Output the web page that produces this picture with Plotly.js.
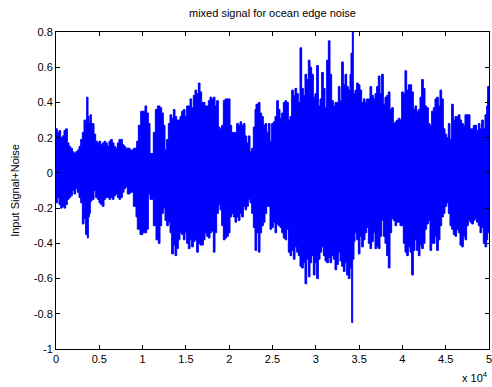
<!DOCTYPE html>
<html>
<head>
<meta charset="utf-8">
<script src="https://cdn.plot.ly/plotly-3.0.1.min.js"></script>
<style>html,body{margin:0;padding:0;background:#fff;}#chart{width:492px;height:387px;}</style>
</head>
<body>
<div id="chart"></div>
<script>
// Upper envelope of the mixed signal (sample index, amplitude)
const upperX = [0,154,346,539,731,924,1116,1309,1501,1694,1886,2078,2271,2463,2656,2848,3040,3233,3425,3541,3695,3810,3926,4080,4234,4388,4580,4773,4965,5158,5350,5543,5735,5928,6120,6312,6505,6697,6890,7082,7275,7467,7659,7852,8044,8237,8545,8930,9315,9507,9776,10277,10469,10662,10854,11239,11470,11701,
12009,12201,12394,12586,12779,12971,13164,13356,13549,13741,13934,14318,14511,14703,14896,15088,15473,15666,15858,16051,16243,16435,16628,16820,17013,17205,17590,17783,17975,18167,18360,18552,18745,18937,19130,19322,19515,19707,19900,20092,20285,20477,20670,20862,21054,21247,21439,21632,21824,22017,22209,22402,22594,22786,22979,23094,23364,23556,23748,23941,24133,24326,24518,
24711,24903,25096,25288,25481,25673,25866,26058,26251,26443,26636,26828,27020,27213,27405,27598,27790,27983,28175,28368,28560,28752,28945,29137,29330,29522,29715,29907,30100,30292,30485,30677,30869,31062,31254,31447,31639,31832,32024,32217,32409,32601,32794,32986,33179,33371,33564,33756,33949,34064,34218,34334,34526,34718,34911,35103,35296,35488,35681,35873,36066,36258,36450,36643,36835,37028,37220,
37412,37604,37797,37989,38182,38374,38567,38759,38952,39144,39337,39529,39721,39914,40106,40299,40491,40684,40876,41069,41261,41453,41646,41838,42031,42223,42416,42608,42801,42993,43186,43378,43570,43763,43955,44148,44340,44533,44725,44918,45110,45302,45495,45687,45880,46072,46265,46457,46650,46842,47035,47227,47419,47612,47804,47997,48189,48382,48574,48767,48959,49152,49344,49537,49729,49845,50000];
const upperY = [0.25,0.23,0.24,0.20,0.21,0.24,0.25,0.17,0.15,0.14,0.12,0.11,0.12,0.13,0.15,0.19,0.23,0.30,0.28,0.43,0.32,0.28,0.33,0.28,0.28,0.22,0.18,0.17,0.18,0.16,0.17,0.18,0.17,0.15,0.18,0.19,0.17,0.15,0.14,0.17,0.19,0.19,0.16,0.15,0.14,0.14,0.13,0.14,0.18,0.27,0.35,0.38,0.34,0.28,0.11,0.23,0.36,0.38,
0.37,0.34,0.27,0.13,0.19,0.28,0.33,0.31,0.36,0.32,0.30,0.32,0.35,0.36,0.32,0.38,0.42,0.37,0.44,0.47,0.45,0.51,0.46,0.40,0.40,0.38,0.41,0.43,0.42,0.43,0.38,0.41,0.26,0.25,0.27,0.41,0.42,0.42,0.42,0.27,0.23,0.23,0.23,0.28,0.27,0.29,0.27,0.28,0.21,0.17,0.21,0.12,0.14,0.26,0.36,0.39,0.40,0.34,0.32,0.27,0.28,0.23,0.28,
0.18,0.28,0.29,0.32,0.41,0.36,0.31,0.34,0.40,0.41,0.40,0.30,0.32,0.47,0.44,0.48,0.45,0.40,0.71,0.48,0.44,0.56,0.53,0.64,0.60,0.56,0.43,0.45,0.61,0.38,0.42,0.57,0.48,0.37,0.64,0.75,0.56,0.41,0.38,0.40,0.40,0.49,0.41,0.63,0.50,0.56,0.49,0.47,0.56,0.68,0.80,0.45,0.47,0.51,0.50,0.47,0.40,0.42,0.40,0.42,0.42,0.49,0.44,0.42,0.45,0.49,0.55,
0.45,0.56,0.39,0.43,0.44,0.46,0.36,0.37,0.28,0.29,0.30,0.31,0.30,0.46,0.45,0.58,0.47,0.50,0.50,0.46,0.36,0.38,0.35,0.36,0.43,0.53,0.48,0.38,0.37,0.28,0.27,0.35,0.37,0.42,0.43,0.38,0.47,0.42,0.25,0.22,0.20,0.28,0.19,0.39,0.30,0.32,0.32,0.33,0.30,0.28,0.27,0.33,0.33,0.33,0.25,0.25,0.27,0.27,0.24,0.28,0.25,0.30,0.25,0.33,0.38,0.49,0.42];

// Lower envelope of the mixed signal (sample index, amplitude)
const lowerX = [0,154,346,539,731,924,1116,1309,1501,1694,1886,2078,2271,2463,2656,2848,3040,3233,3425,3618,3734,3849,3964,4157,4388,4580,4773,4965,5158,5350,5543,5735,5928,6120,6312,6505,6697,6890,7082,7275,7467,7659,7852,8044,8237,8545,8930,9238,9392,9700,10007,10469,10662,10854,11239,11547,11816,
12009,12201,12394,12586,12779,12971,13164,13356,13549,13741,13934,14126,14318,14511,14703,14896,15088,15281,15473,15666,15858,16051,16243,16435,16628,16820,17013,17205,17398,17590,17783,17975,18167,18360,18552,18745,18937,19130,19322,19515,19707,19900,20092,20285,20477,20670,20862,21054,21247,21439,21632,21824,22017,22209,22402,22594,22786,22979,23171,23364,23556,23748,23941,24133,24326,24518,
24711,24903,25096,25288,25481,25673,25866,26058,26251,26443,26636,26828,27020,27213,27405,27598,27790,27983,28175,28368,28560,28752,28945,29137,29330,29522,29715,29907,30100,30292,30485,30677,30869,31062,31254,31447,31639,31832,32024,32217,32409,32601,32794,32986,33179,33371,33564,33756,33949,34141,34256,34410,34526,34718,34911,35103,35296,35488,35681,35873,36066,36258,36450,36643,36835,37028,37220,
37412,37604,37797,37989,38182,38374,38567,38759,38952,39144,39337,39529,39721,39914,40106,40299,40491,40684,40876,41069,41261,41453,41646,41838,42031,42223,42416,42608,42801,42993,43186,43378,43570,43763,43955,44148,44340,44533,44725,44918,45110,45302,45495,45687,45880,46072,46265,46457,46650,46842,47035,47227,47419,47612,47804,47997,48189,48382,48574,48767,48959,49152,49344,49537,49729,49845,50000];
const lowerY = [-0.15,-0.17,-0.14,-0.18,-0.20,-0.19,-0.20,-0.18,-0.15,-0.14,-0.13,-0.10,-0.12,-0.09,-0.11,-0.14,-0.17,-0.29,-0.26,-0.35,-0.37,-0.25,-0.23,-0.16,-0.15,-0.10,-0.14,-0.15,-0.17,-0.18,-0.19,-0.15,-0.14,-0.14,-0.15,-0.14,-0.15,-0.13,-0.12,-0.14,-0.15,-0.14,-0.11,-0.09,-0.08,-0.12,-0.11,-0.19,-0.25,-0.32,-0.35,-0.34,-0.32,-0.12,-0.15,-0.30,-0.38,
-0.40,-0.30,-0.23,-0.20,-0.27,-0.30,-0.28,-0.34,-0.46,-0.41,-0.47,-0.43,-0.38,-0.34,-0.35,-0.38,-0.34,-0.40,-0.43,-0.38,-0.42,-0.39,-0.38,-0.45,-0.40,-0.41,-0.41,-0.38,-0.34,-0.36,-0.37,-0.34,-0.33,-0.45,-0.34,-0.23,-0.18,-0.21,-0.30,-0.38,-0.37,-0.36,-0.34,-0.25,-0.23,-0.25,-0.28,-0.25,-0.27,-0.23,-0.25,-0.19,-0.21,-0.19,-0.15,-0.17,-0.23,-0.31,-0.44,-0.34,-0.45,-0.34,-0.30,-0.28,-0.23,-0.19,
-0.19,-0.32,-0.31,-0.28,-0.34,-0.29,-0.30,-0.31,-0.34,-0.37,-0.38,-0.32,-0.45,-0.47,-0.44,-0.49,-0.42,-0.45,-0.47,-0.53,-0.54,-0.51,-0.63,-0.49,-0.59,-0.51,-0.47,-0.58,-0.51,-0.60,-0.49,-0.45,-0.42,-0.47,-0.50,-0.51,-0.48,-0.51,-0.47,-0.49,-0.55,-0.52,-0.45,-0.50,-0.53,-0.56,-0.51,-0.58,-0.60,-0.54,-0.85,-0.49,-0.39,-0.34,-0.38,-0.46,-0.36,-0.42,-0.38,-0.34,-0.31,-0.40,-0.43,-0.39,-0.34,-0.43,-0.42,
-0.43,-0.36,-0.27,-0.36,-0.40,-0.47,-0.54,-0.34,-0.26,-0.27,-0.30,-0.28,-0.28,-0.30,-0.30,-0.40,-0.45,-0.47,-0.42,-0.45,-0.58,-0.44,-0.38,-0.44,-0.47,-0.41,-0.43,-0.40,-0.32,-0.29,-0.27,-0.44,-0.40,-0.40,-0.36,-0.44,-0.38,-0.30,-0.25,-0.23,-0.19,-0.17,-0.23,-0.30,-0.32,-0.35,-0.36,-0.32,-0.34,-0.41,-0.42,-0.36,-0.38,-0.30,-0.27,-0.28,-0.29,-0.27,-0.26,-0.28,-0.30,-0.34,-0.31,-0.40,-0.42,-0.38,-0.34];

const xTickVals = [0,5000,10000,15000,20000,25000,30000,35000,40000,45000,50000];
const xTickText = ['0','0.5','1','1.5','2','2.5','3','3.5','4','4.5','5'];
const yTickVals = [-1,-0.8,-0.6,-0.4,-0.2,0,0.2,0.4,0.6,0.8];
const yTickText = ['-1','-0.8','-0.6','-0.4','-0.2','0','0.2','0.4','0.6','0.8'];

const titleText = 'mixed signal for ocean edge noise';
const yTitleText = 'Input Signal+Noise';
const xScaleText = 'x 10<sup>4</sup>';

const polyX = upperX.concat(lowerX.slice().reverse());
const polyY = upperY.concat(lowerY.slice().reverse());

const trace = {
  x: polyX, y: polyY, type: 'scatter', mode: 'lines',
  fill: 'toself', fillcolor: '#0000ff',
  line: {color: '#0000ff', width: 1, shape: 'hv'}, hoverinfo: 'skip'
};

const font = {family: 'Liberation Sans, Arial, Helvetica, sans-serif', size: 11, color: '#000'};

const layout = {
  width: 492, height: 387,
  margin: {l: 56, r: 3, t: 32, b: 38},
  paper_bgcolor: '#fff', plot_bgcolor: '#fff',
  font: font,
  showlegend: false,
  title: {text: titleText, font: {family: font.family, size: 11, color: '#000'}, x: 0.5, xref: 'paper', xanchor: 'center', y: 1, yref: 'container', yanchor: 'top', pad: {t: 9}},
  xaxis: {
    range: [0, 50000], tickmode: 'array', tickvals: xTickVals, ticktext: xTickText,
    ticks: 'inside', ticklen: 4, tickcolor: '#000', showgrid: false, zeroline: false,
    showline: true, linecolor: '#000', linewidth: 1, mirror: 'ticks',
    tickfont: font, ticklabeloverflow: 'allow'
  },
  yaxis: {
    range: [-1, 0.8], tickmode: 'array', tickvals: yTickVals, ticktext: yTickText,
    ticks: 'inside', ticklen: 4, tickcolor: '#000', showgrid: false, zeroline: false,
    showline: true, linecolor: '#000', linewidth: 1, mirror: 'ticks',
    tickfont: font, ticklabeloverflow: 'allow',
    title: {text: yTitleText, font: font, standoff: 11}
  },
  annotations: [{
    text: xScaleText, xref: 'paper', yref: 'paper', x: 1.003, y: -0.118,
    xanchor: 'right', yanchor: 'bottom', showarrow: false, font: font
  }]
};

Plotly.newPlot('chart', [trace], layout, {staticPlot: true, displayModeBar: false});
</script>
</body>
</html>
